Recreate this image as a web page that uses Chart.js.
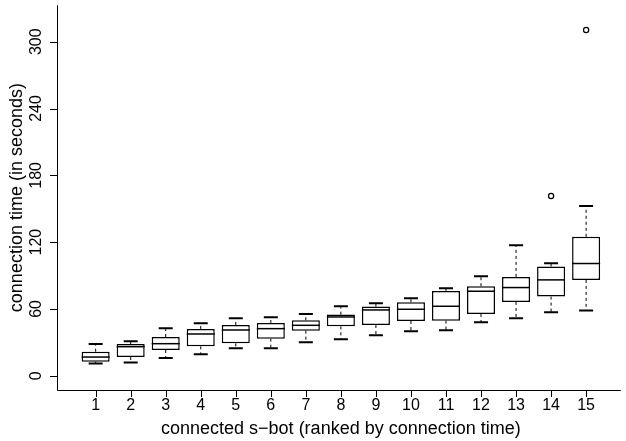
<!DOCTYPE html>
<html lang="en">
<head>
  <meta charset="UTF-8" />
  <title>Connection time boxplot</title>
  <script src="https://cdn.jsdelivr.net/npm/chart.js"></script>
  <style>
    body { margin: 0; background: #fff; }
  </style>
</head>
<body>
  <canvas id="boxChart" width="626" height="441"></canvas>

  <script>
    // rank of connected s-bot
    const ranks = [1, 2, 3, 4, 5, 6, 7, 8, 9, 10, 11, 12, 13, 14, 15];
    // box statistics (seconds)
    const lowerWhisker = [11.1, 12.0, 15.9, 19.2, 24.6, 24.6, 30.0, 32.7, 36.3, 39.9, 40.8, 48.0, 51.6, 57.0, 58.5];
    const q1 = [12.6, 16.8, 23.1, 26.4, 29.1, 33.3, 40.5, 44.4, 45.6, 49.2, 49.5, 55.5, 66.3, 71.1, 86.1];
    const medians = [16.8, 26.1, 28.8, 37.5, 41.1, 42.3, 45.3, 52.8, 59.1, 59.7, 62.4, 75.9, 79.2, 86.1, 100.8];
    const q3 = [21.6, 28.5, 34.8, 42.0, 45.6, 47.4, 49.8, 54.9, 62.1, 66.0, 76.2, 80.4, 88.8, 98.1, 124.8];
    const upperWhisker = [28.5, 30.9, 42.6, 47.1, 51.6, 52.5, 55.5, 62.4, 65.1, 69.6, 78.6, 89.4, 117.3, 101.1, 152.4];
    const outliers = [{ x: 14, y: 161.4 }, { x: 15, y: 310.5 }];
    const yTicks = [0, 60, 120, 180, 240, 300];

    const tickFont = '16px "Liberation Sans", Arial, sans-serif';
    const titleFont = '18px "Liberation Sans", Arial, sans-serif';

    // whiskers, staples and medians
    const boxExtras = {
      id: "boxExtras",
      afterDatasetsDraw(chart) {
        const { ctx, scales: { x, y } } = chart;
        const bars = chart.getDatasetMeta(0).data;
        ctx.save();
        ctx.strokeStyle = "#000";
        ranks.forEach((r, i) => {
          const px = x.getPixelForValue(r);
          const half = bars[i].width / 2;
          // dashed whiskers
          ctx.lineWidth = 1;
          ctx.setLineDash([3, 3]);
          ctx.beginPath();
          ctx.moveTo(px, y.getPixelForValue(q3[i]));
          ctx.lineTo(px, y.getPixelForValue(upperWhisker[i]));
          ctx.moveTo(px, y.getPixelForValue(q1[i]));
          ctx.lineTo(px, y.getPixelForValue(lowerWhisker[i]));
          ctx.stroke();
          ctx.setLineDash([]);
          // staples
          ctx.lineWidth = 2;
          ctx.beginPath();
          [upperWhisker[i], lowerWhisker[i]].forEach(v => {
            const py = y.getPixelForValue(v);
            ctx.moveTo(px - half / 2, py);
            ctx.lineTo(px + half / 2, py);
          });
          ctx.stroke();
          // median
          ctx.lineWidth = 1.5;
          ctx.beginPath();
          const pm = y.getPixelForValue(medians[i]);
          ctx.moveTo(px - half, pm);
          ctx.lineTo(px + half, pm);
          ctx.stroke();
        });
        ctx.restore();
      }
    };

    // R-style axes drawn from the chart scales
    const rAxes = {
      id: "rAxes",
      afterDraw(chart) {
        const { ctx, chartArea: a, scales: { x, y } } = chart;
        ctx.save();
        ctx.strokeStyle = "#000";
        ctx.fillStyle = "#000";
        ctx.lineWidth = 1;
        ctx.beginPath();
        ctx.moveTo(a.left + 0.5, a.top);
        ctx.lineTo(a.left + 0.5, a.bottom + 0.5);
        ctx.lineTo(a.right, a.bottom + 0.5);
        ctx.stroke();

        ctx.textAlign = "center";
        ctx.textBaseline = "middle";

        ctx.beginPath();
        ranks.forEach(r => {
          const px = Math.round(x.getPixelForValue(r)) + 0.5;
          ctx.moveTo(px, a.bottom);
          ctx.lineTo(px, a.bottom + 7);
        });
        yTicks.forEach(v => {
          const py = Math.round(y.getPixelForValue(v)) + 0.5;
          ctx.moveTo(a.left, py);
          ctx.lineTo(a.left - 7, py);
        });
        ctx.stroke();

        ctx.font = tickFont;
        ranks.forEach(r => {
          ctx.fillText(String(r), x.getPixelForValue(r), a.bottom + 16);
        });
        yTicks.forEach(v => {
          ctx.save();
          ctx.translate(a.left - 20, y.getPixelForValue(v));
          ctx.rotate(-Math.PI / 2);
          ctx.fillText(String(v), 0, 0);
          ctx.restore();
        });

        ctx.font = titleFont;
        ctx.fillText("connected s\u2212bot (ranked by connection time)", x.getPixelForValue(8), a.bottom + 39);
        ctx.save();
        ctx.translate(a.left - 40, (a.top + a.bottom) / 2);
        ctx.rotate(-Math.PI / 2);
        ctx.fillText("connection time (in seconds)", 0, 0);
        ctx.restore();
        ctx.restore();
      }
    };

    const ctx = document.getElementById("boxChart").getContext("2d");
    new Chart(ctx, {
      type: "bar",
      data: {
        datasets: [{
          data: ranks.map((r, i) => ({ x: r, y: [q1[i], q3[i]] })),
          backgroundColor: "#fff",
          borderColor: "#000",
          borderWidth: 1.5,
          borderSkipped: false,
          barPercentage: 0.8,
          categoryPercentage: 1
        }, {
          type: "scatter",
          data: outliers,
          pointRadius: 2.6,
          pointBorderWidth: 1.2,
          pointBorderColor: "#000",
          pointBackgroundColor: "#fff"
        }]
      },
      options: {
        responsive: false,
        animation: false,
        layout: { padding: { left: 57, right: 0, top: 5, bottom: 51 } },
        plugins: { legend: { display: false }, tooltip: { enabled: false } },
        scales: {
          x: { type: "linear", offset: false, min: -0.103, max: 15.99, display: false },
          y: { min: -12.8, max: 332.8, display: false }
        }
      },
      plugins: [boxExtras, rAxes]
    });
  </script>
</body>
</html>
